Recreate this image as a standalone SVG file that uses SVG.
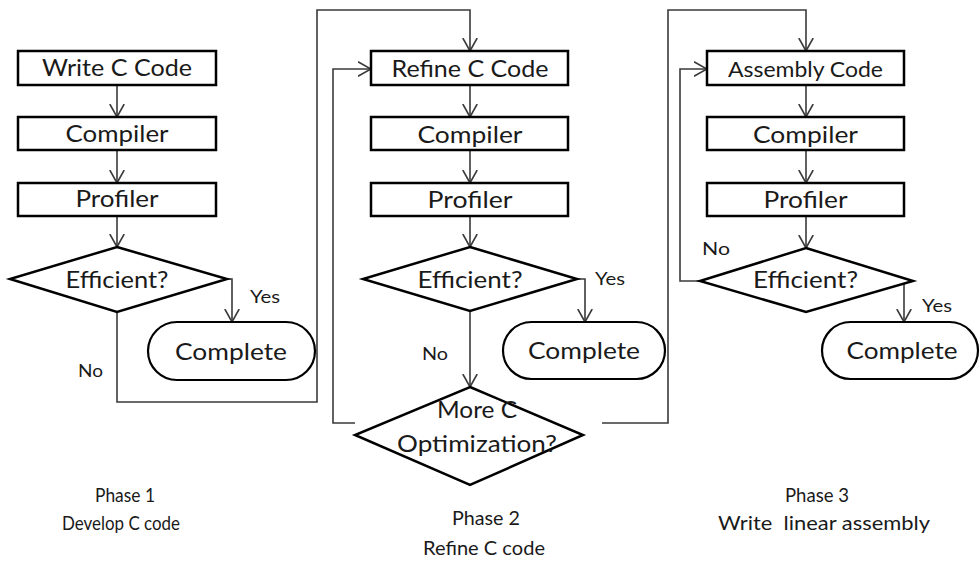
<svg xmlns="http://www.w3.org/2000/svg" width="980" height="563" viewBox="0 0 980 563">
  <style>
    .box { fill: #ffffff; stroke: #000000; stroke-width: 2.5; }
    .term { fill: #ffffff; stroke: #000000; stroke-width: 2.2; }
    .wire { fill: none; stroke: #3a3a3a; stroke-width: 1.6; }
    text { font-family: Lato, "Liberation Sans", sans-serif; fill: #1a1a1a; }
    .lbl { font-size: 24px; text-anchor: middle; }
    .sm { font-size: 18px; }
    .phase { font-size: 20px; text-anchor: middle; white-space: pre; }
  </style>
  <defs>
    <marker id="arrow" viewBox="0 0 14 16" refX="13" refY="8" markerWidth="14" markerHeight="16" markerUnits="userSpaceOnUse" orient="auto">
      <path d="M0,0.8 L13,8 L0,15.2" fill="none" stroke="#3a3a3a" stroke-width="1.6"/>
    </marker>
  </defs>
  <rect width="980" height="563" fill="#ffffff"/>

  <!-- connectors -->
  <g id="connectors" class="wire" marker-end="url(#arrow)">
    <!-- phase 1 -->
    <path d="M117,85 V117"/>
    <path d="M117,150 V183"/>
    <path d="M117,216 V247"/>
    <path d="M227,279 H232 V322"/>
    <path d="M117,312 V402 H317 V10 H470 V51"/>
    <!-- phase 2 -->
    <path d="M470,85 V117"/>
    <path d="M470,150 V183"/>
    <path d="M470,216 V247"/>
    <path d="M577,279 H585 V322"/>
    <path d="M470,311 V387"/>
    <path d="M355,423 H333 V69 H371"/>
    <path d="M602,423 H668 V10 H806 V51"/>
    <!-- phase 3 -->
    <path d="M806,85 V117"/>
    <path d="M806,150 V183"/>
    <path d="M806,216 V248"/>
    <path d="M700,281 H680 V69 H707"/>
    <path d="M904,281 V322"/>
  </g>

  <!-- phase 1 nodes -->
  <g id="p1-write">
    <rect class="box" x="18" y="51" width="198" height="34"/>
    <text class="lbl" x="117" y="76" textLength="150" lengthAdjust="spacingAndGlyphs">Write C Code</text>
  </g>
  <g id="p1-compiler">
    <rect class="box" x="18" y="117" width="198" height="33"/>
    <text class="lbl" x="117" y="142" textLength="103" lengthAdjust="spacingAndGlyphs">Compiler</text>
  </g>
  <g id="p1-profiler">
    <rect class="box" x="18" y="183" width="198" height="33"/>
    <text class="lbl" x="117" y="207" textLength="83" lengthAdjust="spacingAndGlyphs">Profiler</text>
  </g>
  <g id="p1-efficient">
    <polygon class="box" points="117,247 227,279 117,312 10,279"/>
    <text class="lbl" x="117" y="288" textLength="103" lengthAdjust="spacingAndGlyphs">Efficient?</text>
  </g>
  <g id="p1-complete">
    <rect class="term" x="148" y="322" width="167" height="58" rx="29" ry="29"/>
    <text class="lbl" x="231" y="360" textLength="112" lengthAdjust="spacingAndGlyphs">Complete</text>
  </g>
  <g id="p1-labels">
    <text class="sm" x="250" y="303" textLength="30" lengthAdjust="spacingAndGlyphs">Yes</text>
    <text class="sm" x="78" y="377" textLength="25" lengthAdjust="spacingAndGlyphs">No</text>
  </g>

  <!-- phase 2 nodes -->
  <g id="p2-refine">
    <rect class="box" x="371" y="51" width="197" height="34"/>
    <text class="lbl" x="470" y="77" textLength="157" lengthAdjust="spacingAndGlyphs">Refine C Code</text>
  </g>
  <g id="p2-compiler">
    <rect class="box" x="371" y="117" width="197" height="33"/>
    <text class="lbl" x="470" y="143" textLength="105" lengthAdjust="spacingAndGlyphs">Compiler</text>
  </g>
  <g id="p2-profiler">
    <rect class="box" x="371" y="183" width="197" height="33"/>
    <text class="lbl" x="470" y="208" textLength="85" lengthAdjust="spacingAndGlyphs">Profiler</text>
  </g>
  <g id="p2-efficient">
    <polygon class="box" points="470,247 577,279 470,311 363,279"/>
    <text class="lbl" x="470" y="288" textLength="105" lengthAdjust="spacingAndGlyphs">Efficient?</text>
  </g>
  <g id="p2-complete">
    <rect class="term" x="503" y="322" width="162" height="57" rx="28.5" ry="28.5"/>
    <text class="lbl" x="584" y="359" textLength="112" lengthAdjust="spacingAndGlyphs">Complete</text>
  </g>
  <g id="p2-more">
    <polygon class="box" points="470,387 583,435 470,485 355,435"/>
    <text class="lbl" x="477" y="418" textLength="80" lengthAdjust="spacingAndGlyphs">More C</text>
    <text class="lbl" x="477" y="452" textLength="160" lengthAdjust="spacingAndGlyphs">Optimization?</text>
  </g>
  <g id="p2-labels">
    <text class="sm" x="595" y="285" textLength="30" lengthAdjust="spacingAndGlyphs">Yes</text>
    <text class="sm" x="422" y="360" textLength="26" lengthAdjust="spacingAndGlyphs">No</text>
  </g>

  <!-- phase 3 nodes -->
  <g id="p3-assembly">
    <rect class="box" x="707" y="51" width="197" height="34"/>
    <text class="lbl" x="805.5" y="77" style="font-size:21px" textLength="155" lengthAdjust="spacingAndGlyphs">Assembly Code</text>
  </g>
  <g id="p3-compiler">
    <rect class="box" x="707" y="117" width="197" height="33"/>
    <text class="lbl" x="805.5" y="143" textLength="105" lengthAdjust="spacingAndGlyphs">Compiler</text>
  </g>
  <g id="p3-profiler">
    <rect class="box" x="707" y="183" width="197" height="33"/>
    <text class="lbl" x="805.5" y="208" textLength="84" lengthAdjust="spacingAndGlyphs">Profiler</text>
  </g>
  <g id="p3-efficient">
    <polygon class="box" points="806,248 913,281 806,312 700,281"/>
    <text class="lbl" x="805.5" y="288" textLength="105" lengthAdjust="spacingAndGlyphs">Efficient?</text>
  </g>
  <g id="p3-complete">
    <rect class="term" x="822" y="322" width="156" height="57" rx="28.5" ry="28.5"/>
    <text class="lbl" x="902" y="359" textLength="111" lengthAdjust="spacingAndGlyphs">Complete</text>
  </g>
  <g id="p3-labels">
    <text class="sm" x="702" y="255" textLength="28" lengthAdjust="spacingAndGlyphs">No</text>
    <text class="sm" x="922" y="312" textLength="30" lengthAdjust="spacingAndGlyphs">Yes</text>
  </g>

  <!-- phase captions -->
  <g id="captions">
    <text class="phase" x="125" y="502" textLength="60" lengthAdjust="spacingAndGlyphs">Phase 1</text>
    <text class="phase" x="121" y="530" textLength="118" lengthAdjust="spacingAndGlyphs">Develop C code</text>
    <text class="phase" x="486" y="525" textLength="68" lengthAdjust="spacingAndGlyphs">Phase 2</text>
    <text class="phase" x="484" y="555" textLength="122" lengthAdjust="spacingAndGlyphs">Refine C code</text>
    <text class="phase" x="817" y="502" textLength="64" lengthAdjust="spacingAndGlyphs">Phase 3</text>
    <text class="phase" x="824" y="530" textLength="212" lengthAdjust="spacingAndGlyphs">Write  linear assembly</text>
  </g>
</svg>
